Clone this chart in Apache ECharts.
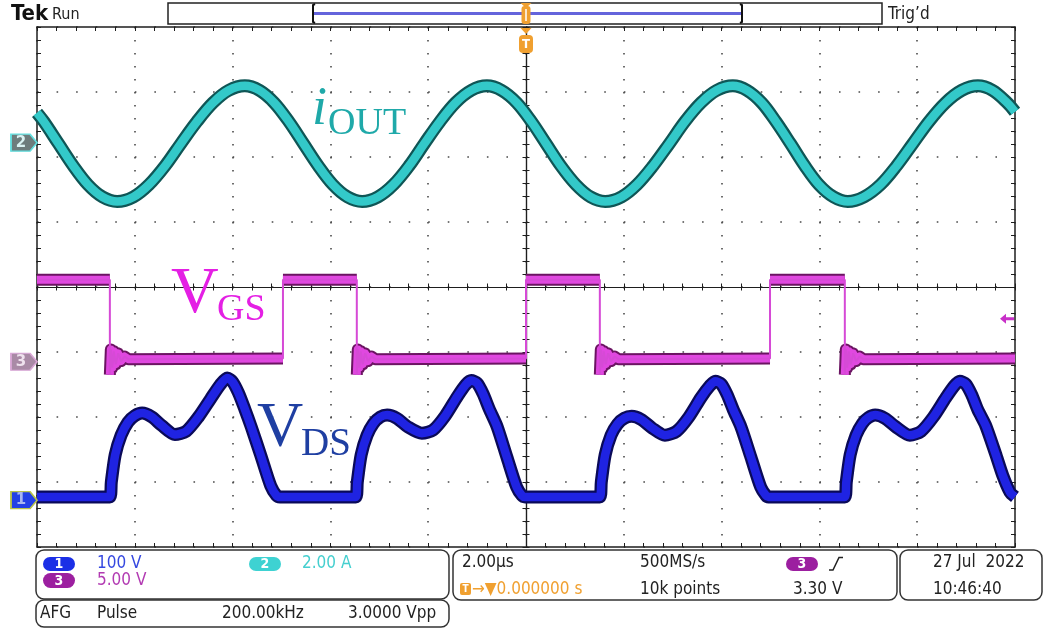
<!DOCTYPE html>
<html>
<head>
<meta charset="utf-8">
<script src="https://cdn.jsdelivr.net/npm/echarts@6/dist/echarts.min.js"></script>
<style>
html,body{margin:0;padding:0;background:#fff;}
#scope{width:1048px;height:630px;}
</style>
</head>
<body>
<div id="scope"></div>
<script>
// ---- Acquisition settings (time in µs relative to the trigger point) ----
const timeMin = -10, timeMax = 10, timePerDiv = 2;
const divsHalfHeight = 4;

// Vertical settings per channel: units per division and ground position (divisions from centre)
const ch1Scale = 100, ch1Pos = -3.28;   // V_DS, volts
const ch2Scale = 2,   ch2Pos = 2.22;    // i_OUT, amperes
const ch3Scale = 5,   ch3Pos = -1.15;   // V_GS, volts
const trigLevel = 3.3;                   // volts on channel 3

// ---- Channel 2: output current i_OUT [µs, A] ----
const iOutPoints = [
  [-10, 0.92], [-9.86, 0.65], [-9.56, -0.03], [-9.26, -0.71], [-8.96, -1.29], [-8.66, -1.67], [-8.36, -1.81],
  [-8.03, -1.67], [-7.71, -1.29], [-7.38, -0.71], [-7.06, -0.03], [-6.73, 0.65], [-6.40, 1.23], [-6.08, 1.61], [-5.75, 1.75],
  [-5.45, 1.61], [-5.15, 1.23], [-4.85, 0.65], [-4.55, -0.03], [-4.25, -0.71], [-3.95, -1.29], [-3.65, -1.67], [-3.35, -1.81],
  [-3.03, -1.67], [-2.71, -1.29], [-2.39, -0.71], [-2.08, -0.03], [-1.76, 0.65], [-1.44, 1.23], [-1.12, 1.61], [-0.80, 1.75],
  [-0.50, 1.61], [-0.19, 1.23], [0.11, 0.65], [0.41, -0.03], [0.71, -0.71], [1.02, -1.29], [1.32, -1.67], [1.62, -1.81],
  [1.95, -1.67], [2.27, -1.29], [2.60, -0.71], [2.93, -0.03], [3.25, 0.65], [3.58, 1.23], [3.90, 1.61], [4.23, 1.75],
  [4.52, 1.61], [4.82, 1.23], [5.11, 0.65], [5.41, -0.03], [5.70, -0.71], [5.99, -1.29], [6.29, -1.67], [6.58, -1.81],
  [6.91, -1.67], [7.25, -1.29], [7.58, -0.71], [7.91, -0.03], [8.24, 0.65], [8.58, 1.23], [8.91, 1.61], [9.24, 1.75],
  [9.54, 1.61], [9.84, 1.23], [10, 0.95]
];

// ---- Channel 3: gate-source voltage V_GS [µs, V] ----
const vgsPoints = [
  [-10, 6.3], [-8.51, 6.3],
  [-8.51, -1.0], [-8.49, 0.95], [-8.46, -0.45], [-8.43, 0.8], [-8.39, -0.2], [-8.34, 0.65], [-8.28, 0.05], [-8.21, 0.4], [-8.13, 0.2],
  [-4.97, 0.25], [-4.97, 6.3], [-3.46, 6.3],
  [-3.46, -1.0], [-3.44, 0.95], [-3.41, -0.45], [-3.38, 0.8], [-3.34, -0.2], [-3.29, 0.65], [-3.23, 0.05], [-3.16, 0.4], [-3.08, 0.2],
  [0, 0.25], [0, 6.3], [1.51, 6.3],
  [1.51, -1.0], [1.53, 0.95], [1.56, -0.45], [1.59, 0.8], [1.63, -0.2], [1.68, 0.65], [1.74, 0.05], [1.81, 0.4], [1.89, 0.2],
  [4.99, 0.25], [4.99, 6.3], [6.52, 6.3],
  [6.52, -1.0], [6.54, 0.95], [6.57, -0.45], [6.60, 0.8], [6.64, -0.2], [6.69, 0.65], [6.75, 0.05], [6.82, 0.4], [6.90, 0.2],
  [10, 0.25]
];

// ---- Channel 1: drain-source voltage V_DS [µs, V] ----
const vdsPoints = [
  [-10, 5],
  [-8.51, 5], [-8.48, 28], [-8.40, 70], [-8.28, 100], [-8.14, 120], [-8.00, 130], [-7.85, 134], [-7.65, 128], [-7.45, 115],
  [-7.18, 101], [-6.95, 106], [-6.70, 128], [-6.45, 156], [-6.25, 178], [-6.11, 188], [-6.00, 182], [-5.88, 165],
  [-5.75, 140], [-5.62, 113], [-5.42, 68], [-5.22, 22], [-5.10, 7], [-5.03, 5],
  [-3.48, 5], [-3.45, 28], [-3.37, 70], [-3.25, 100], [-3.12, 118], [-2.98, 128], [-2.84, 131], [-2.64, 126], [-2.42, 113],
  [-2.13, 103], [-1.90, 108], [-1.65, 130], [-1.40, 160], [-1.23, 178], [-1.12, 184], [-1.00, 180], [-0.88, 164],
  [-0.75, 140], [-0.59, 113], [-0.39, 66], [-0.19, 20], [-0.08, 7], [-0.02, 5],
  [1.51, 5], [1.54, 28], [1.62, 70], [1.74, 100], [1.87, 117], [2.01, 126], [2.16, 129], [2.36, 124], [2.58, 111],
  [2.84, 100], [3.08, 106], [3.33, 128], [3.58, 158], [3.76, 176], [3.87, 183], [3.99, 179], [4.11, 163],
  [4.24, 139], [4.40, 112], [4.60, 66], [4.80, 20], [4.91, 7], [4.96, 5],
  [6.52, 5], [6.55, 28], [6.63, 70], [6.75, 100], [6.88, 118], [7.00, 127], [7.14, 131], [7.34, 126], [7.56, 113],
  [7.85, 100], [8.08, 106], [8.33, 128], [8.58, 157], [8.76, 176], [8.87, 183], [8.99, 179], [9.11, 163],
  [9.24, 139], [9.40, 115], [9.60, 72], [9.75, 38], [9.90, 12], [10, 5]
];

// Axis range that places a channel's ground at its screen position
function chRange(scale, pos) {
  return { min: (-divsHalfHeight - pos) * scale, max: (divsHalfHeight - pos) * scale };
}

// Persistence band of a step waveform: break the thick stroke at vertical edges
function bandData(points) {
  const out = [];
  points.forEach((p, i) => {
    if (i > 0 && p[0] === points[i - 1][0]) out.push([p[0], '-']);
    out.push(p);
  });
  return out;
}

const frameColor = '#1e1e1e';
const dotStyle = { color: '#4a4a4a', width: 1.6 };

function borderX(position) {
  return {
    type: 'value', min: timeMin, max: timeMax, interval: timePerDiv, position,
    axisLine: { show: true, onZero: false, lineStyle: { color: frameColor, width: 1.5 } },
    axisTick: { show: true, inside: true, length: 4, lineStyle: { color: frameColor, width: 1 } },
    minorTick: { show: true, splitNumber: 5, length: 4, lineStyle: { color: frameColor, width: 1 } },
    axisLabel: { show: false },
    splitLine: position === 'bottom'
      ? { show: true, lineStyle: { color: dotStyle.color, width: dotStyle.width, type: [1.6, 11.4] } }
      : { show: false }
  };
}
function centerX(inside) {
  return {
    type: 'value', min: timeMin, max: timeMax, interval: timePerDiv, position: 'bottom',
    axisLine: { show: true, onZero: true, onZeroAxisIndex: 0, lineStyle: { color: frameColor, width: 1.2 } },
    axisTick: { show: true, inside, length: 3.5, lineStyle: { color: frameColor, width: 1 } },
    minorTick: { show: true, splitNumber: 5, length: 3.5, lineStyle: { color: frameColor, width: 1 } },
    axisLabel: { show: false }, splitLine: { show: false }
  };
}
function borderY(position) {
  return {
    type: 'value', min: -divsHalfHeight, max: divsHalfHeight, interval: 1, position,
    axisLine: { show: true, onZero: false, lineStyle: { color: frameColor, width: 1.5 } },
    axisTick: { show: true, inside: true, length: 4, lineStyle: { color: frameColor, width: 1 } },
    minorTick: { show: true, splitNumber: 5, length: 4, lineStyle: { color: frameColor, width: 1 } },
    axisLabel: { show: false },
    splitLine: position === 'left'
      ? { show: true, lineStyle: { color: dotStyle.color, width: dotStyle.width, type: [1.6, 17.96] } }
      : { show: false }
  };
}
function centerY(inside) {
  return {
    type: 'value', min: -divsHalfHeight, max: divsHalfHeight, interval: 1, position: 'left',
    axisLine: { show: true, onZero: true, onZeroAxisIndex: 0, lineStyle: { color: frameColor, width: 1.2 } },
    axisTick: { show: true, inside, length: 3.5, lineStyle: { color: frameColor, width: 1 } },
    minorTick: { show: true, splitNumber: 5, length: 3.5, lineStyle: { color: frameColor, width: 1 } },
    axisLabel: { show: false }, splitLine: { show: false }
  };
}
function channelY(scale, pos) {
  const r = chRange(scale, pos);
  return { type: 'value', min: r.min, max: r.max, show: false, axisLine: { onZero: false }, splitLine: { show: false } };
}

// Ground reference tag on the left edge
const tagPath = 'path://M0,0 L19,0 L26,8.5 L19,17 L0,17 Z';
function groundTag(label, fill, stroke, textColor) {
  return {
    coord: [timeMin, 0], symbol: tagPath, symbolSize: [26, 17], symbolKeepAspect: false,
    symbolOffset: [-13, 0],
    itemStyle: { color: fill, borderColor: stroke, borderWidth: 1.5 },
    label: { show: true, formatter: label, offset: [-3, 0], color: textColor,
             fontFamily: 'DejaVu Sans', fontSize: 15, fontWeight: 'bold' }
  };
}
function markers(items) {
  return { symbol: 'none', silent: true, animation: false, data: items };
}

const series = [
  // i_OUT
  { type: 'line', xAxisIndex: 0, yAxisIndex: 5, data: iOutPoints, smooth: 0.35, showSymbol: false, silent: true,
    lineStyle: { color: '#0f5656', width: 13, join: 'round', cap: 'butt' }, z: 3 },
  { type: 'line', xAxisIndex: 0, yAxisIndex: 5, data: iOutPoints, smooth: 0.35, showSymbol: false, silent: true,
    lineStyle: { color: '#33c9c9', width: 8.5, join: 'round', cap: 'butt' }, z: 4,
    markPoint: markers([groundTag('2', '#6d7c7c', '#62e0e0', '#d9f2f2')]) },
  // V_GS
  { type: 'line', xAxisIndex: 0, yAxisIndex: 6, data: bandData(vgsPoints), showSymbol: false, silent: true,
    connectNulls: false, lineStyle: { color: '#6b1462', width: 12, join: 'round', cap: 'butt' }, z: 3 },
  { type: 'line', xAxisIndex: 0, yAxisIndex: 6, data: bandData(vgsPoints), showSymbol: false, silent: true,
    connectNulls: false, lineStyle: { color: '#e048e0', width: 8, join: 'round', cap: 'butt' }, z: 4 },
  { type: 'line', xAxisIndex: 0, yAxisIndex: 6, data: vgsPoints, showSymbol: false, silent: true,
    lineStyle: { color: '#d64ad6', width: 2 }, z: 5,
    markPoint: markers([
      groundTag('3', '#a98aa6', '#d9a6d6', '#efe2ee'),
      { coord: [timeMax, trigLevel], symbol: 'path://M0,5 L6,0 L6,3.5 L14,3.5 L14,6.5 L6,6.5 L6,10 Z',
        symbolSize: [14, 10], symbolOffset: [-8, 0], itemStyle: { color: '#c830c8' }, label: { show: false } }
    ]) },
  // V_DS
  { type: 'line', xAxisIndex: 0, yAxisIndex: 4, data: vdsPoints, smooth: 0.25, showSymbol: false, silent: true,
    lineStyle: { color: '#0a0a58', width: 13, join: 'round', cap: 'butt' }, z: 3 },
  { type: 'line', xAxisIndex: 0, yAxisIndex: 4, data: vdsPoints, smooth: 0.25, showSymbol: false, silent: true,
    lineStyle: { color: '#1f23e2', width: 8.5, join: 'round', cap: 'butt' }, z: 4,
    markPoint: markers([groundTag('1', '#2340e6', '#b9c24a', '#a9b6f0')]) }
];

const chart = echarts.init(document.getElementById('scope'), null, { renderer: 'canvas' });
chart.setOption({
  animation: false,
  backgroundColor: '#ffffff',
  grid: { left: 37, top: 27, width: 978, height: 520, containLabel: false },
  xAxis: [borderX('bottom'), borderX('top'), centerX(true), centerX(false)],
  yAxis: [borderY('left'), borderY('right'), centerY(true), centerY(false),
          channelY(ch1Scale, ch1Pos), channelY(ch2Scale, ch2Pos), channelY(ch3Scale, ch3Pos)],
  series
});

// ---- Screen annotations and status readouts ----
const trigX = chart.convertToPixel({ xAxisIndex: 0 }, 0);
const uiFont = '"DejaVu Sans Condensed", "DejaVu Sans", sans-serif';
const serif = '"Liberation Serif", "Times New Roman", serif';
const orange = '#f0a030';

function txt(text, x, y, size, fill, opts) {
  opts = opts || {};
  return { type: 'text', x, y, z: 50, silent: true,
    style: { text, fill, font: (opts.weight || 'normal') + ' ' + (opts.style || 'normal') + ' ' + size + 'px ' + (opts.family || uiFont),
             verticalAlign: 'middle', align: opts.align || 'left' } };
}
function box(x, y, w, h) {
  return { type: 'rect', z: 40, silent: true, shape: { x, y, width: w, height: h, r: 8 },
           style: { fill: 'none', stroke: '#333', lineWidth: 1.5 } };
}
function pill(x, y, w, h, fill, label) {
  return [
    { type: 'rect', z: 41, silent: true, shape: { x, y, width: w, height: h, r: h / 2 }, style: { fill } },
    txt(label, x + w / 2, y + h / 2 + 0.5, 14, '#ffffff', { align: 'center', weight: 'bold' })
  ];
}

const graphic = [
  // header
  txt('Tek', 11, 14, 22, '#111', { weight: 'bold' }),
  txt('Run', 52, 14.5, 16, '#222'),
  txt('Trig\u2019d', 888, 14.5, 17, '#222'),
  { type: 'rect', z: 40, silent: true, shape: { x: 168, y: 3, width: 714, height: 21 },
    style: { fill: '#fff', stroke: '#222', lineWidth: 1.5 } },
  { type: 'line', z: 41, silent: true, shape: { x1: 313, y1: 13.5, x2: 742, y2: 13.5 }, style: { stroke: '#6464dc', lineWidth: 3 } },
  { type: 'polyline', z: 42, silent: true, shape: { points: [[315, 4], [313, 5], [313, 22], [315, 23]] }, style: { fill: 'none', stroke: '#111', lineWidth: 2 } },
  { type: 'polyline', z: 42, silent: true, shape: { points: [[740, 4], [742, 5], [742, 22], [740, 23]] }, style: { fill: 'none', stroke: '#111', lineWidth: 2 } },
  { type: 'polygon', z: 43, silent: true, shape: { points: [[trigX - 5.5, 3], [trigX + 5.5, 3], [trigX, 8]] }, style: { fill: orange } },
  { type: 'rect', z: 43, silent: true, shape: { x: trigX - 4.5, y: 6, width: 9, height: 18, r: 3 }, style: { fill: orange } },
  { type: 'line', z: 44, silent: true, shape: { x1: trigX, y1: 9, x2: trigX, y2: 21 }, style: { stroke: '#fff', lineWidth: 1.5 } },
  { type: 'polygon', z: 43, silent: true, shape: { points: [[trigX - 5.5, 28], [trigX + 5.5, 28], [trigX, 34]] }, style: { fill: orange } },
  { type: 'rect', z: 43, silent: true, shape: { x: trigX - 7, y: 35, width: 14, height: 18, r: 4 }, style: { fill: orange } },
  txt('T', trigX, 44.5, 13, '#ffffff', { align: 'center', weight: 'bold' }),

  // trace names
  txt('i', 312, 110, 54, '#1fa9a9', { family: serif, style: 'italic' }),
  txt('OUT', 328, 124.5, 38, '#1fa9a9', { family: serif }),
  txt('V', 171, 295, 66, '#e41fe4', { family: serif }),
  txt('GS', 217, 310.5, 38, '#e41fe4', { family: serif }),
  txt('V', 257, 429, 64, '#1f3fa2', { family: serif }),
  txt('DS', 301, 445, 39, '#1f3fa2', { family: serif }),

  // vertical settings
  box(36, 550, 413, 49),
  ...pill(43, 557, 32, 14, '#1b2fe6', '1'),
  txt('100 V', 97, 564, 17, '#3548e0'),
  ...pill(249, 557, 32, 14, '#3ed2d2', '2'),
  txt('2.00 A', 302, 564, 17, '#45cfcf'),
  ...pill(43, 573, 32, 15, '#9c1fa0', '3'),
  txt('5.00 V', 97, 580.5, 17, '#b23ab2'),

  // function generator
  box(36, 600, 413, 27),
  txt('AFG', 40, 613.5, 17, '#222'),
  txt('Pulse', 97, 613.5, 17, '#222'),
  txt('200.00kHz', 222, 613.5, 17, '#222'),
  txt('3.0000 Vpp', 348, 613.5, 17, '#222'),

  // horizontal / trigger
  box(453, 550, 444, 50),
  txt('2.00\u00b5s', 462, 563, 17, '#222'),
  { type: 'rect', z: 41, silent: true, shape: { x: 460, y: 583, width: 11, height: 12, r: 2 }, style: { fill: orange } },
  txt('T', 465.5, 589.5, 10, '#ffffff', { align: 'center', weight: 'bold' }),
  txt('\u2192\u25bc0.000000 s', 472, 589.5, 17, orange),
  txt('500MS/s', 640, 563, 17, '#222'),
  txt('10k points', 640, 589.5, 17, '#222'),
  ...pill(786, 557, 32, 14, '#9c1fa0', '3'),
  { type: 'polyline', z: 41, silent: true, shape: { points: [[829, 570], [833, 570], [839, 557.5], [843, 557.5]] },
    style: { fill: 'none', stroke: '#222', lineWidth: 1.5 } },
  txt('3.30 V', 793, 589.5, 17, '#222'),

  // date / time
  box(900, 550, 142, 50),
  txt('27 Jul  2022', 933, 563, 17, '#222'),
  txt('10:46:40', 933, 589.5, 17, '#222')
];

chart.setOption({ graphic });
</script>
</body>
</html>
